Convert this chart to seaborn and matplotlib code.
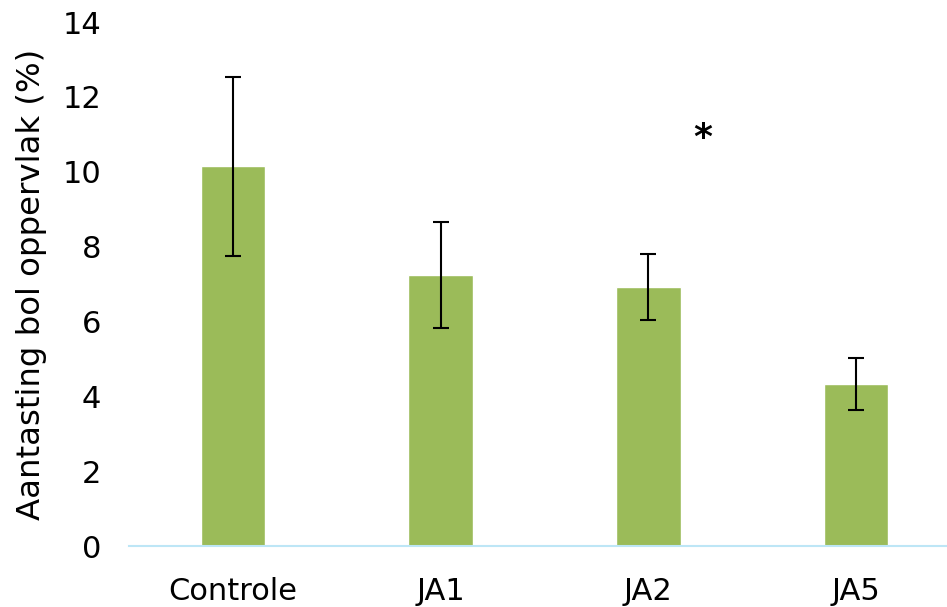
import matplotlib
matplotlib.use("Agg")
import matplotlib.pyplot as plt
import seaborn as sns
import pandas as pd
import numpy as np

categories = ["Controle", "JA1", "JA2", "JA5"]
values = [10.15, 7.24, 6.92, 4.33]
errors = [2.39, 1.41, 0.88, 0.70]
star_x = 2.26
star_y = 10.9
yticks = [0, 2, 4, 6, 8, 10, 12, 14]

sns.set_theme(style="white")
plt.rcParams["font.family"] = ["DejaVu Sans"]
plt.rcParams["text.color"] = "black"
plt.rcParams["axes.labelcolor"] = "black"

df = pd.DataFrame({"cat": categories, "val": values})

fig = plt.figure(figsize=(9.47, 6.07), dpi=100)
ax = fig.add_axes([129/947, 1-546/607, 831/947, (546-22)/607])
sns.barplot(data=df, x="cat", y="val", color="#9BBB59", width=0.31,
            saturation=1, ax=ax, errorbar=None)
ax.errorbar(np.arange(len(categories)), values, yerr=errors, fmt="none",
            ecolor="black", elinewidth=1.5, capsize=6, capthick=1.5)
ax.text(star_x, star_y, "*", ha="center", va="center", fontsize=26,
        fontweight="bold", color="black")

ax.set_xlim(-0.5, 3.5)
ax.set_ylim(0, 14)
ax.set_yticks(yticks)
ax.set_yticklabels([str(t) for t in yticks])
ax.tick_params(axis="both", labelsize=22, length=0, colors="black")
ax.tick_params(axis="y", pad=20)
ax.tick_params(axis="x", pad=22)
ax.set_xlabel("")
ax.set_ylabel("Aantasting bol oppervlak (%)", fontsize=23.3, labelpad=11, color="black")
for s in ["top", "right", "left"]:
    ax.spines[s].set_visible(False)
ax.spines["bottom"].set_color("#BDE6F6")
ax.spines["bottom"].set_linewidth(1.5)

fig.savefig("out.png", dpi=100)
